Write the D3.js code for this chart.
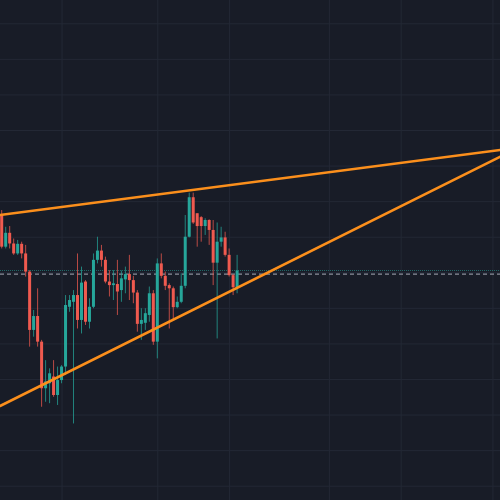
<!DOCTYPE html>
<html>
<head>
<meta charset="utf-8">
<script src="https://cdn.jsdelivr.net/npm/d3@7"></script>
<style>
  html, body { margin: 0; padding: 0; background: #181c27; }
  #chart { width: 500px; height: 500px; }
</style>
</head>
<body>
<div id="chart"></div>
<script>
// candle values, one entry per bar
const candleOpen  = [246.1, 237.2, 241.1, 238.1, 235.3, 238.0, 235.3, 230.2, 213.8, 217.7,
                     210.5, 197.4, 198.8, 200.7, 195.5, 199.7, 203.5, 220.3, 221.7, 223.6,
                     216.6, 227.4, 216.1, 220.3, 233.5, 236.1, 233.5, 227.4, 226.4, 226.7,
                     225.0, 228.0, 229.5, 227.8, 224.3, 215.5, 215.8, 218.0, 224.1, 210.5,
                     232.5, 229.0, 226.4, 225.5, 220.2, 221.7, 226.2, 240.0, 251.1, 246.6,
                     245.5, 243.0, 244.7, 241.9, 232.7, 238.6, 239.8, 234.9, 229.2, 225.8];
const candleHigh  = [247.5, 242.8, 243.0, 239.5, 239.1, 238.6, 237.7, 230.6, 219.4, 225.5,
                     211.0, 205.3, 203.0, 205.3, 203.5, 203.9, 223.6, 223.6, 225.0, 235.3,
                     231.6, 227.8, 222.7, 235.3, 240.0, 237.7, 234.4, 230.6, 230.6, 233.5,
                     230.5, 231.6, 234.9, 229.0, 225.0, 219.9, 219.9, 226.0, 225.0, 233.9,
                     235.3, 230.2, 226.9, 226.0, 223.2, 229.7, 246.1, 252.4, 252.4, 246.6,
                     245.8, 245.2, 244.9, 244.7, 244.0, 242.8, 241.4, 236.7, 229.5, 234.9];
const candleLow   = [236.7, 236.7, 236.7, 234.9, 234.9, 233.9, 228.8, 209.1, 211.9, 209.1,
                     192.2, 193.6, 193.2, 195.0, 192.7, 198.8, 201.1, 218.9, 187.5, 214.2,
                     212.8, 215.2, 214.2, 219.9, 232.5, 231.6, 226.9, 223.2, 222.2, 218.0,
                     221.7, 224.1, 222.2, 221.3, 213.3, 211.0, 213.8, 216.1, 209.6, 205.8,
                     228.3, 225.0, 214.2, 216.6, 219.9, 221.3, 225.5, 239.8, 243.6, 237.2,
                     238.6, 240.5, 237.7, 226.4, 211.4, 237.2, 234.4, 228.8, 223.6, 224.1];
const candleClose = [237.2, 241.1, 238.1, 235.3, 238.0, 235.3, 230.2, 213.8, 217.7, 210.5,
                     197.4, 199.3, 201.6, 195.5, 199.7, 203.5, 220.8, 222.2, 223.6, 216.6,
                     227.1, 216.1, 220.3, 233.5, 236.1, 233.5, 227.4, 226.4, 226.9, 224.6,
                     228.3, 229.5, 227.8, 224.3, 215.5, 216.6, 218.5, 224.1, 210.5, 232.5,
                     229.0, 226.2, 225.5, 220.2, 221.7, 226.2, 240.0, 251.1, 244.0, 243.0,
                     243.0, 244.7, 241.9, 232.7, 238.6, 239.8, 234.9, 229.2, 225.8, 230.5];

// horizontal grid prices and vertical grid bar indexes
const priceTicks = [300, 290, 280, 270, 260, 250, 240, 230, 220, 210, 200, 190, 180, 170];
const timeTicks  = [15, 39, 57, 82, 100, 123];

// drawn trend lines, as [bar index, price] pairs
const upperTrend = [[-0.43, 246.1], [125, 264.4]];
const lowerTrend = [[-0.43, 192.4], [125, 262.5]];

// horizontal dashed level
const levelPrice = 229.5;

/**
 * Draws the candlestick chart with its trend lines
 */
function drawCandleChart(){
    const width = 500;
    const height = 500;
    const bodyWidth = 3;
    // colours
    const bg = '#181c27',
          upColor = '#26a69a',
          downColor = '#ef5a4f',
          gridColor = '#232835',
          trendColor = '#fb8f1c';

    let candles = candleOpen.map((o, i) => ({
        i: i, open: o, high: candleHigh[i], low: candleLow[i], close: candleClose[i]
    }));

    // bar index -> pixel
    let x = d3.scaleLinear()
        .domain([0, candles.length - 1])
        .range([1.7, 237.1]);

    // price -> pixel
    let y = d3.scaleLinear()
        .domain([300, 170])
        .range([23.3, 485.7]);

    let svg = d3.select('#chart').append('svg')
        .attr('width', width)
        .attr('height', height);

    svg.append('rect')
        .attr('width', width)
        .attr('height', height)
        .attr('fill', bg);

    // horizontal grid
    svg.append('g')
        .attr('class', 'y grid')
        .call(d3.axisLeft(y).tickValues(priceTicks).tickSize(-width).tickFormat(''))
        .call(g => g.select('.domain').remove())
        .selectAll('line')
        .attr('stroke', gridColor)
        .attr('stroke-width', 1);

    // vertical grid
    svg.append('g')
        .attr('class', 'x grid')
        .call(d3.axisTop(x).tickValues(timeTicks).tickSize(-height).tickFormat(''))
        .call(g => g.select('.domain').remove())
        .selectAll('line')
        .attr('stroke', gridColor)
        .attr('stroke-width', 1);

    // last price dotted line
    let last = candles[candles.length - 1];
    svg.append('line')
        .attr('x1', 0)
        .attr('x2', width)
        .attr('y1', y(last.close))
        .attr('y2', y(last.close))
        .attr('stroke', last.close >= last.open ? upColor : downColor)
        .attr('stroke-opacity', 0.55)
        .attr('stroke-width', 1)
        .attr('stroke-dasharray', '1,1');

    // dashed level line
    svg.append('line')
        .attr('x1', 0)
        .attr('x2', width)
        .attr('y1', y(levelPrice))
        .attr('y2', y(levelPrice))
        .attr('stroke', '#8a8f9b')
        .attr('stroke-width', 1.2)
        .attr('stroke-dasharray', '4,3');

    let candle = svg.selectAll('.candle')
        .data(candles)
        .enter().append('g')
        .attr('class', 'candle');

    // wicks
    candle.append('rect')
        .attr('x', d => x(d.i) - 0.5)
        .attr('y', d => y(d.high))
        .attr('width', 1)
        .attr('height', d => Math.max(1, y(d.low) - y(d.high)))
        .attr('fill', d => d.close >= d.open ? upColor : downColor)
        .style('opacity', 0.75);

    // bodies
    candle.append('rect')
        .attr('x', d => x(d.i) - bodyWidth / 2)
        .attr('y', d => y(Math.max(d.open, d.close)))
        .attr('width', bodyWidth)
        .attr('height', d => Math.max(1, Math.abs(y(d.open) - y(d.close))))
        .attr('fill', d => d.close >= d.open ? upColor : downColor);

    // trend lines
    let line = d3.line()
        .x(d => x(d[0]))
        .y(d => y(d[1]));

    svg.selectAll('.trend')
        .data([upperTrend, lowerTrend])
        .enter().append('path')
        .attr('class', 'trend')
        .attr('d', line)
        .attr('fill', 'none')
        .attr('stroke', trendColor)
        .attr('stroke-width', 2.6)
        .attr('stroke-linecap', 'round');
}

drawCandleChart();
</script>
</body>
</html>
